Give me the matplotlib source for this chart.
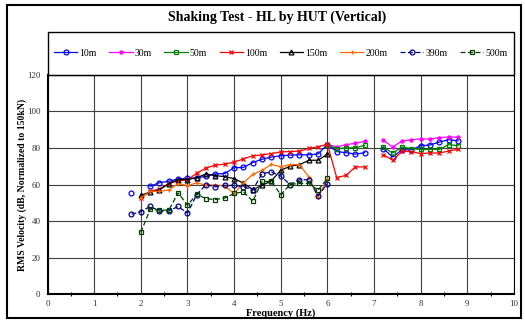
import numpy as np
import matplotlib
matplotlib.use('Agg')
from matplotlib import pyplot as plt
from matplotlib.patches import Rectangle

nan = np.nan

# frequency steps (Hz), 7.0 Hz has no reading
freq = [1.8, 2.0, 2.2, 2.4, 2.6, 2.8, 3.0, 3.2, 3.4, 3.6, 3.8, 4.0, 4.2, 4.4, 4.6, 4.8,
        5.0, 5.2, 5.4, 5.6, 5.8, 6.0, 6.2, 6.4, 6.6, 6.8, 7.0, 7.2, 7.4, 7.6, 7.8, 8.0,
        8.2, 8.4, 8.6, 8.8]

v10 = [55.3, nan, 59.0, 61.0, 61.8, 63.0, 63.4, 63.6, 64.5, 65.8, 66.0, 69.2, 69.3, 72.0,
       73.8, 75.0, 75.7, 76.1, 76.2, 76.2, 76.7, 81.8, 78.0, 77.4, 76.6, 77.4, nan, 79.6,
       75.0, 79.0, 79.0, 81.2, 81.6, 83.2, 84.5, 83.8]
v30 = [nan] * 21 + [82.0, 80.5, 81.8, 82.5, 83.6, nan, 84.1, 80.5, 83.8, 84.5, 84.9, 84.9,
                    85.6, 86.0, 85.8]
v50 = [nan] * 21 + [81.5, 79.6, 80.0, 80.1, 81.4, nan, 80.5, 77.2, 80.5, 79.6, 79.2, 79.2,
                    79.2, 81.8, 81.2]
v100 = [nan, 52.5, 56.3, 57.5, 60.5, 62.0, 62.5, 66.2, 69.0, 70.6, 71.1, 72.2, 74.0, 75.7,
        76.2, 76.9, 77.8, 78.0, 78.2, 79.7, 80.6, 82.0, 63.8, 65.0, 69.6, 69.6, nan, 76.3,
        73.2, 78.1, 78.0, 76.9, 77.2, 77.2, 78.3, 79.2]
v150 = [nan, 54.0, 56.0, 57.0, 60.5, 62.7, 62.7, 63.7, 65.8, 64.8, 64.3, 63.2, 60.8, 57.2,
        59.5, 62.0, 67.8, 70.0, 70.8, 73.2, 73.3, 76.6] + [nan] * 14
v200 = [nan, 52.7, 56.3, 56.3, 57.0, 60.5, 59.4, 60.9, 59.6, 59.8, 59.2, 55.0, 60.9, 65.5,
        67.8, 71.0, 69.7, 70.9, 70.9, 64.2, 53.0, 63.0] + [nan] * 14
v390 = [43.8, 45.1, 48.0, 45.5, 45.5, 48.0, 44.3, 54.5, 60.0, 58.8, 59.5, 59.5, 58.8, 57.0,
        66.0, 66.8, 64.6, 60.0, 62.6, 62.6, 53.8, 60.5] + [nan] * 14
v500 = [nan, 33.8, 46.5, 46.0, 46.0, 55.4, 48.7, 54.7, 52.2, 51.8, 52.6, 55.1, 56.0, 50.9,
        61.7, 61.7, 54.4, 60.0, 60.6, 60.6, 56.9, 63.3] + [nan] * 14

labels = ['10m', '30m', '50m', '100m', '150m', '200m', '390m', '500m']
series = [v10, v30, v50, v100, v150, v200, v390, v500]
colors = ['#0000FF', '#FF00FF', '#008000', '#FF0000', '#000000', '#FF6600', '#000080', '#004000']
markers = ['o', '.', 's', 'x', '^', '+', 'o', 's']
styles = ['-', '-', '-', '-', '-', '-', '--', '--']

plt.rcParams['font.family'] = ['Liberation Serif', 'DejaVu Serif']

fig = plt.figure(figsize=(5.25, 3.26), dpi=100)
W, H = 525.0, 326.0
x0, x1, yb, yt = 47.5, 514.0, 294.3, 74.7
ax = fig.add_axes([x0 / W, 1 - yb / H, (x1 - x0) / W, (yb - yt) / H])

for vals, lab, c, m, ls in zip(series, labels, colors, markers, styles):
    mfc = c if m in ('.', 'x', '+') else 'none'
    ms = 4.5 if m == '.' else 3.5
    ax.plot(freq, vals, color=c, marker=m, ls=ls, lw=0.9, ms=ms, mfc=mfc, mec=c,
            mew=0.9, label=lab, dashes=(4, 2) if ls == '--' else (None, None))

ax.set_xlim(0, 10)
ax.set_ylim(0, 120)
ax.set_xticks(range(0, 11))
ax.set_xticks(np.arange(0.5, 10, 1), minor=True)
ax.set_yticks(range(0, 121, 20))
ax.grid(True, which='major', color='#404040', lw=0.8)
ax.tick_params(axis='both', which='major', length=0, labelsize=6.5, labelcolor='#333333')
ax.tick_params(axis='x', which='major', pad=4)
ax.tick_params(axis='y', which='major', pad=5)
ax.tick_params(axis='x', which='minor', length=3, direction='inout', width=0.8)
for s in ax.spines.values():
    s.set_color('black')
    s.set_linewidth(0.8)
ax.spines['left'].set_linewidth(1.5)
ax.spines['bottom'].set_linewidth(1.5)

ax.set_xlabel('Frequency (Hz)', fontsize=7.5, fontweight='bold')
ax.set_ylabel('RMS Velocity (dB, Normalized to 150kN)', fontsize=7, fontweight='bold')
ax.xaxis.set_label_coords((281 - x0) / (x1 - x0), -(313.5 - yb) / (yb - yt), transform=ax.transAxes)
ax.yaxis.set_label_coords(-(x0 - 22) / (x1 - x0), (yb - 185) / (yb - yt), transform=ax.transAxes)
ax.xaxis.label.set_va('center')
ax.yaxis.label.set_va('center')

# legend box sitting on top of the plot area
lt = 31.7
fig.patches.append(Rectangle((x0 / W, 1 - yt / H), (x1 - x0) / W, (yt - lt) / H,
                             transform=fig.transFigure, fill=False, ec='black', lw=1.0))
h, l = ax.get_legend_handles_labels()
fig.legend(h, l, loc='center', bbox_to_anchor=((x0 + x1) / 2 / W, 1 - 53 / H), ncol=8,
           frameon=False, fontsize=7, handlelength=2.4, handletextpad=0.2,
           columnspacing=1.3, borderpad=0)

fig.text(277 / W, 1 - 17 / H, 'Shaking Test - HL by HUT (Vertical)', ha='center', va='center',
         fontsize=10, fontweight='bold')

# outer chart border
fig.patches.append(Rectangle((7 / W, 1 - 318 / H), (521 - 7) / W, (318 - 5) / H,
                             transform=fig.transFigure, fill=False, ec='black', lw=1.5))

fig.savefig('out.png', dpi=100)
